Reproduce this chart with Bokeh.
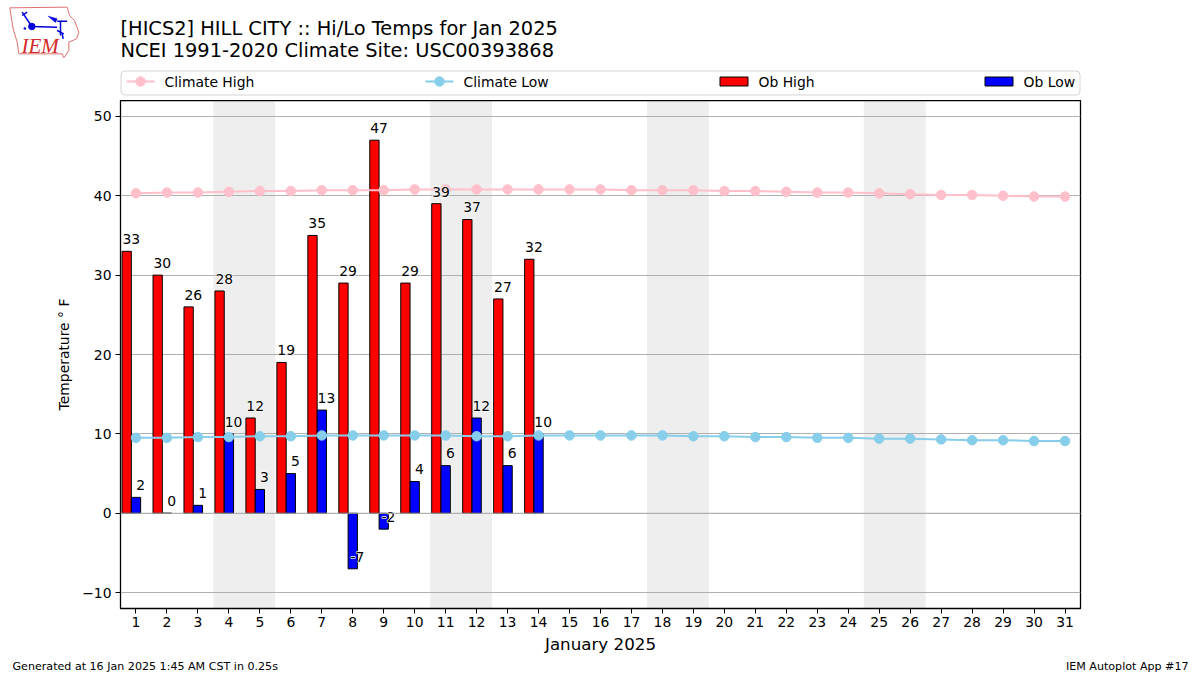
from bokeh.plotting import figure
from bokeh.layouts import column
from bokeh.models import ColumnDataSource, Range1d, FixedTicker, Span, Text, Quad
from bokeh.embed import file_html
from bokeh.resources import INLINE
from bokeh.core.properties import value

days = list(range(1, 32))
climate_high = [40.3,40.4,40.4,40.5,40.6,40.6,40.7,40.7,40.7,40.8,40.8,40.8,40.8,40.8,40.8,40.8,40.7,40.7,40.7,40.6,40.6,40.5,40.4,40.4,40.3,40.2,40.1,40.1,40.0,39.9,39.9]
climate_low = [9.5,9.5,9.6,9.6,9.7,9.7,9.8,9.8,9.8,9.8,9.8,9.7,9.7,9.8,9.8,9.8,9.8,9.8,9.7,9.7,9.6,9.6,9.5,9.5,9.4,9.4,9.3,9.2,9.2,9.1,9.1]
ob_days = list(range(1, 15))
ob_high = [33,30,26,28,12,19,35,29,47,29,39,37,27,32]
ob_low = [2,0,1,10,3,5,13,-7,-2,4,6,12,6,10]
weekend_starts = [3.5, 10.5, 17.5, 24.5]
weekend_ends = [5.5, 12.5, 19.5, 26.5]
y_ticks = [-10,0,10,20,30,40,50]
FONT = "DejaVu Sans"
W = 1200
TOP, BOTTOM, FOOT = 100, 48, 19
MAIN_H = 556

# ---- main chart
p = figure(width=W, height=MAIN_H, output_backend="svg", toolbar_location=None,
           x_range=Range1d(0.5, 31.5), y_range=Range1d(-12, 52),
           min_border_left=120, min_border_right=120, min_border_top=0, min_border_bottom=BOTTOM)
p.frame_align = False
p.outline_line_color = "black"
p.outline_line_width = 1.3
p.background_fill_color = "white"
p.xgrid.visible = False
p.ygrid.grid_line_color = "#b0b0b0"
p.ygrid.grid_line_width = 1
p.ygrid.level = "underlay"

for ax in (p.xaxis[0], p.yaxis[0]):
    ax.major_tick_out = 5
    ax.major_tick_in = 0
    ax.minor_tick_out = 0
    ax.minor_tick_in = 0
    ax.axis_line_color = None
    ax.major_tick_line_color = "black"
    ax.major_label_text_font = FONT
    ax.major_label_text_font_size = "13.9px"
    ax.major_label_text_color = "black"
    ax.axis_label_text_font = FONT
    ax.axis_label_text_font_style = "normal"
    ax.axis_label_text_color = "black"
p.xaxis.ticker = FixedTicker(ticks=days)
p.yaxis.ticker = FixedTicker(ticks=y_ticks)
p.xaxis.axis_label = "January 2025"
p.xaxis.axis_label_text_font_size = "16.7px"
p.xaxis.axis_label_standoff = 4
p.xaxis.major_label_standoff = 3
p.yaxis.major_label_standoff = 4
p.yaxis.axis_label = "Temperature ° F"
p.yaxis.axis_label_text_font_size = "13.9px"
p.yaxis.axis_label_standoff = 7

p.quad(left=weekend_starts, right=weekend_ends, bottom=-12, top=52,
       fill_color="black", fill_alpha=0.067, line_color=None, level="underlay")

src = ColumnDataSource(dict(x=ob_days, hi=ob_high, lo=ob_low,
                            xh=[d-0.3 for d in ob_days], xl=list(ob_days),
                            th=[d-0.15 for d in ob_days], tl=[d+0.15 for d in ob_days],
                            yh=[v+0.9 for v in ob_high], yl=[v+0.9 for v in ob_low],
                            sh=[str(v) for v in ob_high], sl=[str(v) for v in ob_low]))
p.vbar(x="xh", top="hi", bottom=0, width=0.3, source=src, fill_color="red", line_color="black", line_width=1)
p.vbar(x="xl", top="lo", bottom=0, width=0.3, source=src, fill_color="blue", line_color="black", line_width=1)
p.add_layout(Span(location=0, dimension="width", line_color="#b0b0b0", line_width=1, level="glyph"))

p.line(days, climate_high, line_color="pink", line_width=2)
p.scatter(days, climate_high, size=9.5, fill_color="pink", line_color="pink")
p.line(days, climate_low, line_color="skyblue", line_width=2)
p.scatter(days, climate_low, size=9.5, fill_color="skyblue", line_color="skyblue")

halo = {"text_outline_color": "white"} if "text_outline_color" in Text.properties() else {}
for xc, yc, tc in (("th", "yh", "sh"), ("tl", "yl", "sl")):
    if halo:
        p.text(x=xc, y=yc, text=tc, source=src, text_align="center", text_baseline="bottom",
               text_font=value(FONT), text_font_size="13.9px", text_color="white", **halo)
    p.text(x=xc, y=yc, text=tc, source=src, text_align="center", text_baseline="bottom",
           text_font=value(FONT), text_font_size="13.9px", text_color="black")

def strip(height, y_top, y_bottom):
    f = figure(width=W, height=height, output_backend="svg", toolbar_location=None,
               x_range=Range1d(0, W), y_range=Range1d(y_bottom, y_top),
               x_axis_type=None, y_axis_type=None,
               min_border=0, min_border_left=0, min_border_right=0, min_border_top=0, min_border_bottom=0)
    f.frame_align = False
    f.outline_line_color = None
    f.grid.visible = False
    return f

def put_text(f, s, x, y, size, align="left", color="black", style="normal", font=FONT, base="middle"):
    f.text(x=[x], y=[y], text=[s], text_align=align, text_baseline=base,
           text_font=value(font), text_font_size=size, text_color=color, text_font_style=style)

# ---- header: logo, titles, legend (y runs downward in page pixels)
h = strip(TOP, 0, TOP)
put_text(h, "[HICS2] HILL CITY :: Hi/Lo Temps for Jan 2025", 120, 28, "19.4px")
put_text(h, "NCEI 1991-2020 Climate Site: USC00393868", 120, 50, "19.4px")

box = dict(left=[120.5], right=[1079.5], top=[70.5], bottom=[94.5], fill_color="white",
           line_color="#d5d5d5", line_width=1)
if "border_radius" in Quad.properties():
    box["border_radius"] = 4
h.quad(**box)
h.line([126, 154], [81, 81], line_color="pink", line_width=2)
h.scatter([140], [81], size=9.5, fill_color="pink", line_color="pink")
put_text(h, "Climate High", 164, 81, "13.9px")
h.line([425, 453], [81, 81], line_color="skyblue", line_width=2)
h.scatter([439], [81], size=9.5, fill_color="skyblue", line_color="skyblue")
put_text(h, "Climate Low", 463, 81, "13.9px")
h.quad(left=[719.5], right=[747.5], top=[76.5], bottom=[85.5], fill_color="red", line_color="black", line_width=1)
put_text(h, "Ob High", 758, 81, "13.9px")
h.quad(left=[984.5], right=[1012.5], top=[76.5], bottom=[85.5], fill_color="blue", line_color="black", line_width=1)
put_text(h, "Ob Low", 1023, 81, "13.9px")

def stroke(points, color="#0000dd", width=1.5):
    h.line([q[0]/3 for q in points], [q[1]/3 for q in points], line_color=color, line_width=width)

def solid(points, color="#0000dd"):
    h.patch([q[0]/3 for q in points], [q[1]/3 for q in points], fill_color=color, line_color=color, line_width=0.5)

stroke([(28,22),(200,20),(207,45),(222,60),(235,95),(228,115),(205,125),(205,150),(190,172),(185,160),(55,160),(50,125),(38,85),(33,55),(28,22)],
       color="#e07070", width=1)
stroke([(94,78),(170,80)])
stroke([(65,35),(90,72)])
stroke([(65,45),(80,35)])
h.scatter([94/3], [78/3], size=6.5, fill_color="#0000dd", line_color="#0000dd")
solid([(143,47),(170,55),(165,66)])
stroke([(170,62),(200,62)])
stroke([(180,62),(180,105)])
stroke([(170,90),(190,100)])
stroke([(185,100),(188,115)])
stroke([(70,82),(76,86)], width=2)
put_text(h, "IEM", 21, 45, "21px", color="#d42a2a", style="italic", font="Liberation Serif")

# ---- footer
g = strip(FOOT, TOP + MAIN_H, TOP + MAIN_H + FOOT)
put_text(g, "Generated at 16 Jan 2025 1:45 AM CST in 0.25s", 12, 666, "11.1px")
put_text(g, "IEM Autoplot App #17", 1188, 666, "11.1px", align="right")

page = column(h, p, g, spacing=0)
open("out.html", "w").write(file_html(page, INLINE))
